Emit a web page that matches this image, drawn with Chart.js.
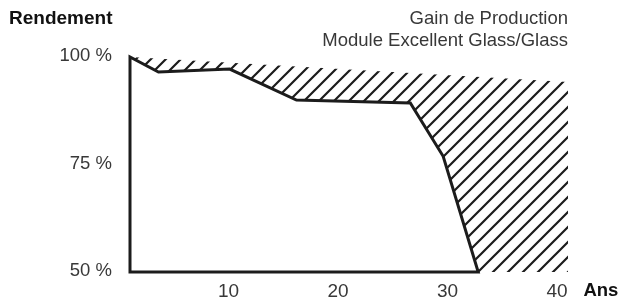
<!DOCTYPE html>
<html>
<head>
<meta charset="utf-8">
<style>
  html, body { margin: 0; padding: 0; background: #ffffff; }
  canvas { display: block; }
</style>
<script src="https://cdn.jsdelivr.net/npm/chart.js@4/dist/chart.umd.min.js"></script>
</head>
<body>
<canvas id="c" width="622" height="302"></canvas>
<script>
// ---- data ----
const years = [1, 3.6, 10.1, 16.2, 26.6, 29.6, 32.8];
const rendement = [100, 96.5, 97.2, 90.0, 89.3, 76.9, 50];
const gainYears = [1, 41];
const gainTop = [100, 94.2];
const yTicks = [50, 75, 100];
const xTicks = [10, 20, 30, 40];
const yTitle = 'Rendement';
const xTitle = 'Ans';
const subtitleLines = ['Gain de Production', 'Module Excellent Glass/Glass'];

// ---- presentation ----
const FONT = '"Liberation Sans", Arial, Helvetica, sans-serif';
const ANS_AT = 44.0;          // where the inline "Ans" label sits on the x scale
const INK = '#1c1c1c';
const GREY_TEXT = '#383838';

function makeHatch() {
  const s = 15;
  const c = document.createElement('canvas');
  c.width = s; c.height = s;
  const g = c.getContext('2d');
  g.strokeStyle = INK;
  g.lineWidth = 2.2;
  g.lineCap = 'square';
  g.beginPath();
  for (const k of [-s, 0, s]) { g.moveTo(k, s); g.lineTo(k + s, 0); }
  g.stroke();
  return g.createPattern(c, 'repeat');
}

const curvePts = years.map((x, i) => ({ x, y: rendement[i] }));
const yMin = yTicks[0], yMax = yTicks[yTicks.length - 1];
const framePts = [{ x: years[0], y: yMin }, ...curvePts, { x: years[0], y: yMin }];
const gainPts = gainYears.map((x, i) => ({ x, y: gainTop[i] }));

new Chart(document.getElementById('c'), {
  type: 'line',
  data: {
    datasets: [
      { // outline of the measured yield (frame + curve)
        label: 'contour',
        data: framePts,
        order: 0,
        borderColor: INK,
        borderWidth: 3,
        borderJoinStyle: 'miter',
        borderCapStyle: 'square',
        pointRadius: 0,
        fill: false,
        tension: 0,
        clip: false
      },
      { // white area under the yield curve
        label: 'Rendement',
        data: curvePts,
        order: 1,
        borderWidth: 0,
        borderColor: 'rgba(0,0,0,0)',
        backgroundColor: '#ffffff',
        pointRadius: 0,
        fill: 'start',
        tension: 0
      },
      { // hatched production gain
        label: 'Gain de Production',
        data: gainPts,
        order: 2,
        borderWidth: 0,
        borderColor: 'rgba(0,0,0,0)',
        backgroundColor: makeHatch(),
        pointRadius: 0,
        fill: 'start',
        tension: 0
      }
    ]
  },
  options: {
    responsive: false,
    devicePixelRatio: 1,
    animation: false,
    events: [],
    layout: { padding: { left: 9, right: 54, top: 0, bottom: 0 } },
    plugins: {
      legend: { display: false },
      tooltip: { enabled: false },
      title: {
        display: true,
        text: yTitle,
        align: 'start',
        color: '#111111',
        font: { family: FONT, size: 19, weight: 'bold', lineHeight: 1.2 },
        padding: { top: 7.5, bottom: -22.8 }
      },
      subtitle: {
        display: true,
        text: subtitleLines,
        align: 'end',
        fullSize: false,
        color: GREY_TEXT,
        font: { family: FONT, size: 18.5, weight: 'normal', lineHeight: 22 / 18.5 },
        padding: { top: 0.5, bottom: 5 }
      }
    },
    scales: {
      x: {
        type: 'linear',
        min: years[0],
        max: gainYears[gainYears.length - 1],
        grid: { display: false, drawTicks: false },
        border: { display: false },
        afterBuildTicks: (axis) => { axis.ticks = [...xTicks, ANS_AT].map(v => ({ value: v })); },
        afterFit: (s) => { s.height = 30; s.paddingLeft = 0; s.paddingRight = 0; },
        ticks: {
          autoSkip: false,
          maxRotation: 0,
          padding: 8,
          callback: (v) => (v === ANS_AT ? xTitle : String(v)),
          font: (ctx) => (ctx.tick && ctx.tick.value === ANS_AT)
            ? { family: FONT, size: 18.5, weight: 'bold', lineHeight: 1.2 }
            : { family: FONT, size: 19, weight: 'normal', lineHeight: 1.2 },
          color: (ctx) => (ctx.tick && ctx.tick.value === ANS_AT) ? '#111111' : GREY_TEXT
        }
      },
      y: {
        type: 'linear',
        min: yMin,
        max: yMax,
        grid: { display: false, drawTicks: false },
        border: { display: false },
        afterBuildTicks: (axis) => { axis.ticks = yTicks.map(v => ({ value: v })); },
        afterFit: (s) => { s.width = 121; s.paddingTop = 0; s.paddingBottom = 0; },
        ticks: {
          padding: 18,
          labelOffset: -1,
          callback: (v) => v + ' %',
          font: { family: FONT, size: 18.5, weight: 'normal', lineHeight: 1.2 },
          color: GREY_TEXT
        }
      }
    }
  }
});
</script>
</body>
</html>
